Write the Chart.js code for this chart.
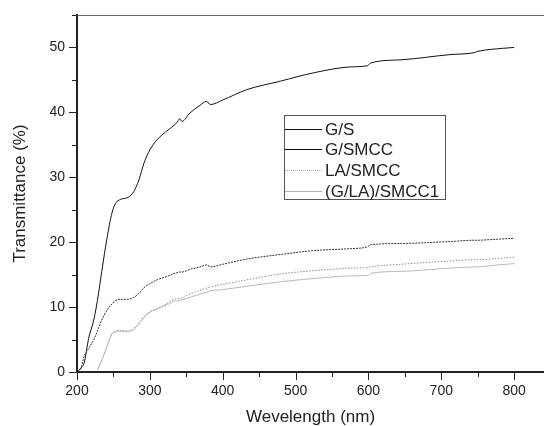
<!DOCTYPE html>
<html>
<head>
<meta charset="utf-8">
<script src="https://cdn.jsdelivr.net/npm/chart.js@4/dist/chart.umd.min.js"></script>
<style>
  html, body { margin: 0; padding: 0; background: #fff; }
  #wrap { width: 544px; height: 426px; }
</style>
</head>
<body>
<div id="wrap"><canvas id="chart" width="544" height="426"></canvas></div>
<script>
// wavelength samples (nm)
const wavelength = [202, 205, 210, 216, 223, 228, 234, 241, 248, 253, 260, 270, 278, 285, 292, 300,
    310, 323, 337, 341, 344, 355, 369, 378, 383, 400, 433, 479, 525, 575, 599, 603, 645, 712, 745, 750, 768, 800];

// transmittance (%) for each sample
const gS = [0.2, 0.6, 1.5, 5.2, 8.0, 11.0, 15.5, 20.5, 24.5, 26.0, 26.6, 26.9, 27.8, 29.6, 32.2, 34.2,
    35.8, 37.1, 38.4, 39.0, 38.6, 39.9, 41.1, 41.7, 41.2, 41.9, 43.5, 44.8, 46.1, 47.0, 47.2, 47.6, 48.1, 48.9, 49.2, 49.4, 49.7, 50.0];
const gSmcc = [0, 0.4, 2.5, 3.6, 5.0, 6.3, 8.0, 9.5, 10.5, 11.0, 11.2, 11.2, 11.5, 12.1, 13.0, 13.6,
    14.2, 14.7, 15.3, 15.4, 15.4, 15.8, 16.2, 16.5, 16.2, 16.6, 17.4, 18.1, 18.7, 19.0, 19.3, 19.6, 19.8, 20.1, 20.3, 20.3, 20.4, 20.6];
const laSmcc = [null, null, null, null, null, 0.3, 1.8, 3.9, 5.9, 6.3, 6.4, 6.3, 6.7, 7.5, 8.5, 9.3,
    9.8, 10.5, 11.3, 11.3, 11.4, 12.0, 12.6, 12.9, 13.1, 13.5, 14.2, 15.1, 15.6, 16.0, 16.1, 16.2, 16.6, 17.1, 17.3, 17.3, 17.4, 17.7];
const glaSmcc1 = [null, null, null, null, null, 0.3, 1.8, 3.9, 5.9, 6.2, 6.3, 6.2, 6.6, 7.4, 8.4, 9.2,
    9.7, 10.3, 11.0, 11.0, 11.1, 11.5, 12.0, 12.3, 12.5, 12.7, 13.2, 13.9, 14.4, 14.8, 14.9, 15.2, 15.5, 16.0, 16.2, 16.2, 16.4, 16.7];

const seriesNames = ['G/S', 'G/SMCC', 'LA/SMCC', '(G/LA)/SMCC1'];
const seriesValues = [gS, gSmcc, laSmcc, glaSmcc1];
const xTitle = 'Wevelength (nm)';
const yTitle = 'Transmittance (%)';

const lineStyles = [
    { color: '#111111', dash: [], legendColor: '#111111', legendDash: [] },
    { color: '#333333', dash: [2, 1], legendColor: '#111111', legendDash: [] },
    { color: '#8c8c8c', dash: [1.5, 1.5], legendColor: '#a8a8a8', legendDash: [1, 1] },
    { color: '#b8b8b8', dash: [], legendColor: '#b0b0b0', legendDash: [] },
];

const fontFamily = '"Liberation Sans", Arial, sans-serif';
const textColor = '#222222';

// top frame line, outward ticks with minors, and the boxed legend
const frameAndLegend = {
    id: 'frameAndLegend',
    afterDatasetsDraw(chart) {
        const { ctx, chartArea: a, scales: { x, y } } = chart;
        ctx.save();
        ctx.lineWidth = 1;
        ctx.strokeStyle = '#666666';
        ctx.beginPath();
        ctx.moveTo(a.left, a.top + 0.5);
        ctx.lineTo(a.right, a.top + 0.5);
        ctx.stroke();

        ctx.strokeStyle = '#222222';
        ctx.beginPath();
        for (let v = x.min; v <= x.max; v += 50) {
            const px = Math.round(x.getPixelForValue(v)) + 0.5;
            const len = v % 100 === 0 ? 8 : 5;
            ctx.moveTo(px, a.bottom);
            ctx.lineTo(px, a.bottom + len);
        }
        for (let v = y.min; v <= y.max; v += 5) {
            const py = Math.round(y.getPixelForValue(v)) + 0.5;
            const len = v % 10 === 0 ? 8 : 5;
            ctx.moveTo(a.left, py);
            ctx.lineTo(a.left - len, py);
        }
        ctx.stroke();

        // legend
        ctx.strokeStyle = '#555555';
        ctx.strokeRect(284.5, 115.5, 161, 84);
        ctx.font = '17px ' + fontFamily;
        ctx.textBaseline = 'middle';
        ctx.fillStyle = textColor;
        seriesNames.forEach((name, i) => {
            const ly = Math.round(128.7 + i * 20.7) + 0.5;
            const st = lineStyles[i];
            ctx.strokeStyle = st.legendColor;
            ctx.setLineDash(st.legendDash);
            ctx.beginPath();
            ctx.moveTo(285, ly);
            ctx.lineTo(322, ly);
            ctx.stroke();
            ctx.setLineDash([]);
            ctx.fillText(name, 325, ly + 1);
        });
        ctx.restore();
    }
};

new Chart(document.getElementById('chart'), {
    type: 'line',
    data: {
        datasets: seriesValues.map((vals, i) => ({
            label: seriesNames[i],
            data: vals.map((v, k) => ({ x: wavelength[k], y: v })),
            borderColor: lineStyles[i].color,
            borderDash: lineStyles[i].dash,
            borderWidth: 1,
            pointRadius: 0,
            fill: false,
            cubicInterpolationMode: 'monotone',
        })).reverse(),
    },
    options: {
        responsive: false,
        animation: false,
        devicePixelRatio: 1,
        layout: { padding: { top: 15, right: 0, bottom: 0, left: 0 } },
        plugins: { legend: { display: false }, tooltip: { enabled: false } },
        scales: {
            x: {
                type: 'linear',
                min: 200,
                max: 841,
                grid: { display: false, drawTicks: true, tickLength: 8 },
                border: { display: true, color: '#222222', width: 2 },
                ticks: {
                    stepSize: 100,
                    includeBounds: false,
                    padding: 3,
                    color: textColor,
                    maxRotation: 0,
                    font: { family: fontFamily, size: 14 },
                },
                title: {
                    display: true,
                    text: xTitle,
                    color: textColor,
                    font: { family: fontFamily, size: 17, lineHeight: 1.0 },
                    padding: { top: 0, bottom: 0 },
                },
                afterFit(scale) { scale.height = 54; },
            },
            y: {
                min: 0,
                max: 55,
                grid: { display: false, drawTicks: true, tickLength: 8 },
                border: { display: true, color: '#222222', width: 2 },
                ticks: {
                    stepSize: 10,
                    includeBounds: false,
                    padding: 4,
                    color: textColor,
                    font: { family: fontFamily, size: 14 },
                },
                title: {
                    display: true,
                    text: yTitle,
                    color: textColor,
                    font: { family: fontFamily, size: 17 },
                    padding: { top: 10, bottom: 0 },
                },
                afterFit(scale) { scale.width = 77; },
            },
        },
    },
    plugins: [frameAndLegend],
});
</script>
</body>
</html>
